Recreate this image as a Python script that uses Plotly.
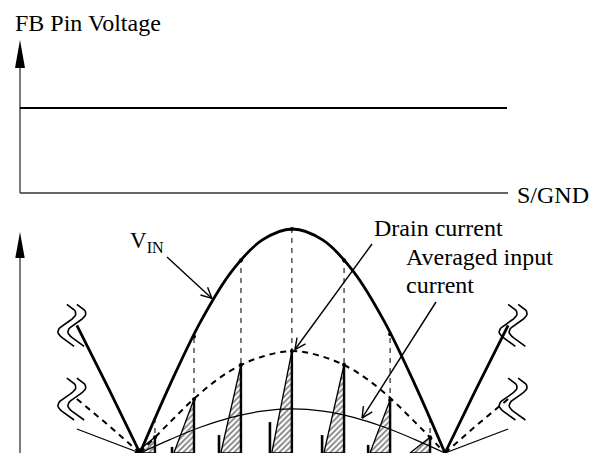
import numpy as np
import plotly.graph_objects as go

# ---------------- data (diagram units) ----------------
# phase within one rectified line half-cycle (0 and 1 = zero crossings)
arch_phase = [0.0, 0.1, 0.2, 0.3, 0.4, 0.5, 0.6, 0.7, 0.8, 0.9, 1.0]
vin_arch = [0.0, 0.31, 0.59, 0.81, 0.95, 1.0, 0.95, 0.81, 0.59, 0.31, 0.0]
drain_env_arch = [0.0, 0.14, 0.27, 0.37, 0.43, 0.455, 0.43, 0.37, 0.27, 0.14, 0.0]
avg_arch = [0.0, 0.061, 0.116, 0.159, 0.187, 0.197, 0.187, 0.159, 0.116, 0.061, 0.0]

# neighbouring half-cycles (partial, cut by break marks)
tail_phase_left = [-0.207, -0.1, 0.0]
tail_phase_right = [1.0, 1.1, 1.207]
vin_tail = [0.57, 0.28, 0.0]
drain_env_tail = [0.241, 0.12, 0.0]
avg_tail = [0.107, 0.053, 0.0]

# switching pulses
pulse_phase = [0.049, 0.177, 0.331, 0.498, 0.669, 0.820, 0.951]
pulse_peak = [0.07, 0.24, 0.394, 0.455, 0.394, 0.237, 0.07]
pulse_vin = [0.15, 0.52, 0.86, 1.0, 0.86, 0.53, 0.15]
on_time = 0.066
reset_offset = 0.072
reset_height = [0.0, 0.027, 0.08, 0.138, 0.08, 0.036, 0.0]

fb_level = 1.0

# label arrow targets (phase, value)
vin_label_target = (0.236, 0.69)
drain_label_target = (0.508, 0.462)
avg_label_target = (0.728, 0.156)

# ---------------- layout geometry ----------------
W, H = 599, 453
PX_T0, PX_PER_T = 140.0, 305.0      # x pixel of phase 0, pixels per phase unit
PX_V0, PX_PER_V = 453.0, 224.0      # lower panel
PX_F0, PX_PER_F = 193.0, 85.0       # upper panel
SPLIT = 200.0                       # pixel row dividing the panels


def px_t(x):
    return (x - PX_T0) / PX_PER_T


def px_v(y):
    return (PX_V0 - y) / PX_PER_V


def px_f(y):
    return (PX_F0 - y) / PX_PER_F


DT = 1.0 / PX_PER_T
DV = 1.0 / PX_PER_V

fig = go.Figure()


def line(x, y, yaxis, width=1.0, dash="solid", color="black", shape="linear"):
    fig.add_trace(go.Scatter(
        x=list(x), y=list(y), xaxis="x", yaxis=yaxis, mode="lines",
        line=dict(color=color, width=width, dash=dash, shape=shape, smoothing=1.0),
        hoverinfo="skip", showlegend=False))


def poly(x, y, yaxis, color="black"):
    fig.add_trace(go.Scatter(
        x=list(x), y=list(y), xaxis="x", yaxis=yaxis, mode="lines",
        fill="toself", fillcolor=color, line=dict(width=0, color=color),
        hoverinfo="skip", showlegend=False))


AXIS_T = px_t(20)

# ----- upper panel: FB pin voltage -----
line([AXIS_T, AXIS_T], [px_f(62), 0], "y", width=1.3, color="#333")
line([AXIS_T, px_t(508)], [0, 0], "y", width=1.3, color="#333")
poly([AXIS_T - 5 * DT, AXIS_T, AXIS_T + 5 * DT], [px_f(68), px_f(40), px_f(68)], "y")
line([AXIS_T, px_t(507)], [fb_level, fb_level], "y", width=2.0)

# ----- lower panel -----
line([AXIS_T, AXIS_T], [px_v(252), 0], "y2", width=1.3, color="#333")
poly([AXIS_T - 4.7 * DT, AXIS_T, AXIS_T + 4.7 * DT], [px_v(258), px_v(232), px_v(258)], "y2")

# hatched drain-current triangles
for t, pk in zip(pulse_phase, pulse_peak):
    fig.add_trace(go.Scatter(
        x=[t - on_time, t, t, t - on_time], y=[0, pk, 0, 0],
        xaxis="x", yaxis="y2", mode="lines", fill="toself",
        fillcolor="white",
        fillpattern=dict(shape="/", size=4, solidity=0.45, fgcolor="black", bgcolor="white"),
        line=dict(color="black", width=1.3), hoverinfo="skip", showlegend=False))
    line([t, t], [0, pk], "y2", width=2.4)

# dashed sampling verticals
for t, vv in zip(pulse_phase, pulse_vin):
    line([t, t], [0, vv], "y2", width=1.1, dash="5px,5px", color="#111")

# reset spikes
for t, h in zip(pulse_phase, reset_height):
    if h > 0:
        line([t - reset_offset, t - reset_offset], [0, h], "y2", width=2.6)

# averaged input current (thin)
line(arch_phase, avg_arch, "y2", width=1.2, shape="spline")
line(tail_phase_left, avg_tail, "y2", width=1.2)
line(tail_phase_right, avg_tail[::-1], "y2", width=1.2)

# drain current envelope (dashed)
line(arch_phase, drain_env_arch, "y2", width=2.0, dash="6px,5px", shape="spline")
line(tail_phase_left, drain_env_tail, "y2", width=2.0, dash="6px,5px")
line(tail_phase_right, drain_env_tail[::-1], "y2", width=2.0, dash="6px,5px")

# VIN (bold)
line(arch_phase, vin_arch, "y2", width=2.8, shape="spline")
line(tail_phase_left, vin_tail, "y2", width=2.8)
line(tail_phase_right, vin_tail[::-1], "y2", width=2.8)

# dots at intersections
fig.add_trace(go.Scatter(
    x=pulse_phase[1:-1] + pulse_phase, y=pulse_vin[1:-1] + pulse_peak,
    xaxis="x", yaxis="y2", mode="markers",
    marker=dict(color="black", size=4), hoverinfo="skip", showlegend=False))

# break marks (double squiggles) at the ends of the partial half-cycles
s = np.linspace(0.0, 1.15, 30)


def squiggle(cx_t, cy_v):
    xs = cx_t + 9 * DT * np.sin(2 * np.pi * s)
    ys = cy_v + 21 * DV - (42 * DV) * s / 1.15
    line(xs, ys, "y2", width=1.6)


for end_v in (vin_tail[0], drain_env_tail[0]):
    lt = tail_phase_left[0]
    rt = tail_phase_right[-1]
    squiggle(lt - 10 * DT, end_v)
    squiggle(lt, end_v)
    squiggle(rt, end_v)
    squiggle(rt + 10 * DT, end_v)

# ---------------- label arrows (open chevron heads) ----------------


def arrow(target, tail_px, head_len=12.0, spread=26.0):
    t, v = target
    hx = PX_T0 + t * PX_PER_T
    hy = PX_V0 - v * PX_PER_V
    tx, ty = tail_px
    line([px_t(tx), t], [px_v(ty), v], "y2", width=1.4)
    ang = np.arctan2(ty - hy, tx - hx)
    for sgn in (-1, 1):
        a = ang + sgn * np.radians(spread)
        ex = hx + head_len * np.cos(a)
        ey = hy + head_len * np.sin(a)
        line([px_t(ex), t], [px_v(ey), v], "y2", width=1.4)


arrow(vin_label_target, (167, 257))
arrow(drain_label_target, (372, 244))
arrow(avg_label_target, (436, 302))

# ---------------- text ----------------
FONT = dict(family="Liberation Serif, Times New Roman, serif", size=24, color="black")


def text(label, left_px, baseline_px, yaxis, fs=24):
    conv = px_f if yaxis == "y" else px_v
    fig.add_annotation(
        x=px_t(left_px - 1), y=conv(baseline_px - 0.34 * fs), xref="x", yref=yaxis,
        text=label, showarrow=False, xanchor="left", yanchor="middle",
        font=dict(FONT, size=fs))


text("FB Pin Voltage", 14, 31, "y")
text("S/GND", 516, 203, "y")
text("V<sub>IN</sub>", 129, 250, "y2", fs=23)
text("Drain current", 373, 236, "y2")
text("Averaged input", 405, 265, "y2")
text("current", 405, 293, "y2")

# ---------------- axes ----------------
split_paper = 1 - SPLIT / H
fig.update_layout(
    width=W, height=H, margin=dict(l=0, r=0, t=0, b=0),
    paper_bgcolor="white", plot_bgcolor="white",
    xaxis=dict(range=[px_t(0), px_t(W)], visible=False, fixedrange=True),
    yaxis=dict(range=[px_f(SPLIT), px_f(0)], domain=[split_paper, 1], visible=False,
               anchor="x", fixedrange=True),
    yaxis2=dict(range=[px_v(H), px_v(SPLIT)], domain=[0, split_paper], visible=False,
                anchor="x", fixedrange=True),
    showlegend=False,
)

fig.write_html("out.html", config={"displayModeBar": False},
               post_script="document.body.style.margin='0';")
